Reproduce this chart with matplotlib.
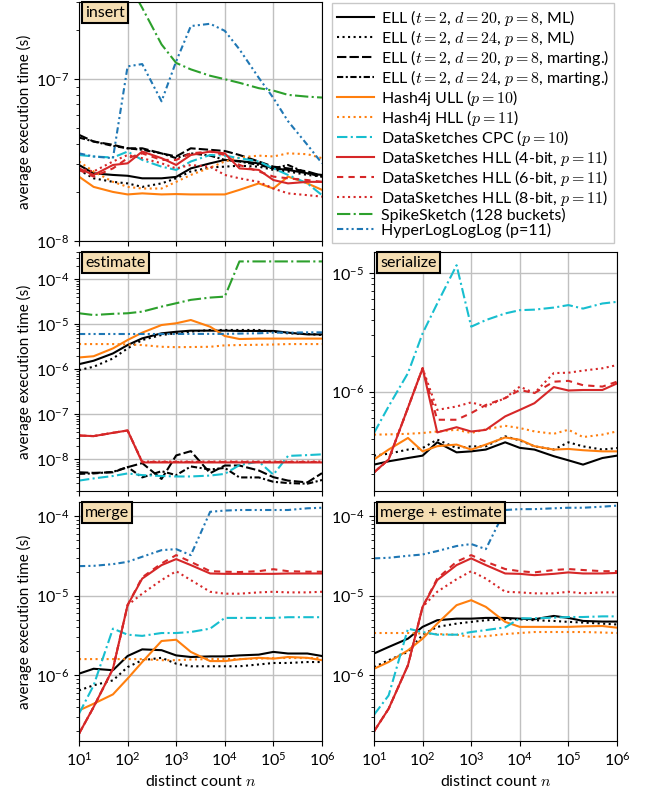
import numpy as np
import matplotlib
matplotlib.use('Agg')
import matplotlib.pyplot as plt

plt.rcParams['font.family'] = ['Lato', 'DejaVu Sans']
plt.rcParams['mathtext.fontset'] = 'cm'
plt.rcParams['font.size'] = 10.5

# distinct counts
n = [10, 20, 50, 100, 200, 500, 1e3, 2e3, 5e3, 1e4, 2e4, 5e4, 1e5, 2e5, 5e5, 1e6]

# --- insert ---
ins_ell_ml20 = [2.95e-8, 2.62e-8, 2.56e-8, 2.53e-8, 2.44e-8, 2.44e-8, 2.49e-8, 2.81e-8, 3.02e-8, 3.17e-8, 3.12e-8, 3.02e-8, 2.81e-8, 2.75e-8, 2.62e-8, 2.56e-8]
ins_ell_ml24 = [2.75e-8, 2.44e-8, 2.32e-8, 2.27e-8, 2.16e-8, 2.27e-8, 2.44e-8, 2.69e-8, 2.85e-8, 2.88e-8, 2.92e-8, 2.88e-8, 2.75e-8, 2.69e-8, 2.56e-8, 2.5e-8]
ins_ell_mg20 = [4.53e-8, 4.12e-8, 3.93e-8, 3.74e-8, 3.74e-8, 3.48e-8, 3.33e-8, 3.74e-8, 3.66e-8, 3.6e-8, 3.4e-8, 3.1e-8, 2.88e-8, 2.81e-8, 2.69e-8, 2.53e-8]
ins_ell_mg24 = [4.36e-8, 4.12e-8, 3.87e-8, 3.74e-8, 3.66e-8, 3.48e-8, 3.25e-8, 3.48e-8, 3.37e-8, 3.17e-8, 3.1e-8, 2.95e-8, 2.81e-8, 2.95e-8, 2.62e-8, 2.5e-8]
ins_ull = [2.5e-8, 2.16e-8, 2.01e-8, 1.94e-8, 1.97e-8, 1.94e-8, 1.95e-8, 1.94e-8, 1.94e-8, 1.94e-8, 2.07e-8, 2.27e-8, 2.11e-8, 2.5e-8, 2.27e-8, 2.07e-8]
ins_h4hll = [3.1e-8, 2.69e-8, 2.32e-8, 2.16e-8, 2.11e-8, 2.11e-8, 2.32e-8, 2.56e-8, 2.84e-8, 3.1e-8, 3.28e-8, 3.37e-8, 3.33e-8, 3.48e-8, 3.44e-8, 3.25e-8]
ins_cpc = [3.4e-8, 3.33e-8, 3.28e-8, 3.57e-8, 3.17e-8, 2.88e-8, 2.75e-8, 3.1e-8, 3.4e-8, 3.37e-8, 3.25e-8, 3.1e-8, 2.81e-8, 2.56e-8, 2.27e-8, 1.92e-8]
ins_ds4 = [2.81e-8, 2.56e-8, 2.95e-8, 3.02e-8, 3.57e-8, 3.25e-8, 2.95e-8, 3.4e-8, 3.57e-8, 3.48e-8, 2.81e-8, 2.75e-8, 2.38e-8, 2.27e-8, 2.32e-8, 2.32e-8]
ins_ds6 = [2.75e-8, 2.5e-8, 2.81e-8, 3.25e-8, 3.48e-8, 3.17e-8, 3.17e-8, 3.48e-8, 3.57e-8, 3.4e-8, 2.95e-8, 2.69e-8, 2.5e-8, 2.44e-8, 2.38e-8, 2.32e-8]
ins_ds8 = [2.81e-8, 2.69e-8, 3.1e-8, 3.4e-8, 3.25e-8, 3.02e-8, 2.81e-8, 2.95e-8, 2.88e-8, 2.56e-8, 2.44e-8, 2.32e-8, 2.11e-8, 1.97e-8, 1.92e-8, 1.88e-8]
ins_spike = [8e-7, 6.5e-7, 5e-7, 4e-7, 2.76e-7, 1.64e-7, 1.26e-7, 1.15e-7, 1.05e-7, 1.0e-7, 9.5e-8, 8.8e-8, 8.5e-8, 8.0e-8, 7.8e-8, 7.7e-8]
ins_hlll = [3.48e-8, 3.33e-8, 3.25e-8, 1.2e-7, 1.24e-7, 7.3e-8, 1.29e-7, 2.13e-7, 2.2e-7, 1.99e-7, 1.53e-7, 1.02e-7, 7.65e-8, 5.5e-8, 3.93e-8, 3.02e-8]

# --- estimate ---
est_ell_ml20 = [1.3e-6, 1.55e-6, 2.25e-6, 3.45e-6, 4.86e-6, 6.28e-6, 6.8e-6, 7.2e-6, 7.2e-6, 7.2e-6, 7.1e-6, 7.1e-6, 7.1e-6, 6.5e-6, 5.95e-6, 5.95e-6]
est_ell_ml24 = [9.6e-7, 1.14e-6, 1.74e-6, 2.91e-6, 4.46e-6, 5.77e-6, 6.28e-6, 6.84e-6, 7.45e-6, 7.45e-6, 7.45e-6, 7.45e-6, 6.84e-6, 6.28e-6, 6.07e-6, 5.77e-6]
est_ell_mg20 = [5.2e-9, 5.05e-9, 5.2e-9, 6.75e-9, 8.3e-9, 3.7e-9, 1.23e-8, 1.53e-8, 4.97e-9, 7.35e-9, 7.35e-9, 5.7e-9, 4.05e-9, 3.4e-9, 3.1e-9, 4.97e-9]
est_ell_mg24 = [4.8e-9, 4.9e-9, 5.3e-9, 6.8e-9, 4.0e-9, 5.5e-9, 4.5e-9, 7.0e-9, 6.0e-9, 6.5e-9, 4.0e-9, 4.0e-9, 3.2e-9, 3.0e-9, 2.9e-9, 3.5e-9]
est_ull = [1.83e-6, 1.95e-6, 2.91e-6, 4.46e-6, 6.5e-6, 9.6e-6, 1.05e-5, 1.24e-5, 8.8e-6, 5.47e-6, 4.7e-6, 4.8e-6, 4.8e-6, 4.8e-6, 4.8e-6, 4.8e-6]
est_h4hll = [3.63e-6, 3.63e-6, 3.63e-6, 3.55e-6, 3.45e-6, 3.16e-6, 3.1e-6, 3.12e-6, 3.16e-6, 3.4e-6, 3.45e-6, 3.5e-6, 3.55e-6, 3.63e-6, 3.63e-6, 3.63e-6]
est_cpc = [3.4e-9, 3.8e-9, 4.3e-9, 4.9e-9, 4.5e-9, 4.3e-9, 4.2e-9, 4.2e-9, 4.4e-9, 4.8e-9, 7.5e-9, 9.0e-9, 4.6e-9, 1.2e-8, 1.25e-8, 1.3e-8]
est_ds4 = [3.4e-8, 3.3e-8, 3.9e-8, 4.4e-8, 8.6e-9, 8.6e-9, 8.6e-9, 8.6e-9, 8.6e-9, 8.6e-9, 8.6e-9, 8.6e-9, 8.6e-9, 8.6e-9, 8.6e-9, 8.6e-9]
est_ds6 = [3.4e-8, 3.3e-8, 3.9e-8, 4.4e-8, 8.8e-9, 8.8e-9, 8.8e-9, 8.8e-9, 8.8e-9, 8.8e-9, 8.8e-9, 8.8e-9, 8.8e-9, 8.8e-9, 8.8e-9, 8.8e-9]
est_ds8 = [3.4e-8, 3.3e-8, 3.9e-8, 4.4e-8, 9.0e-9, 9.0e-9, 9.0e-9, 9.0e-9, 9.0e-9, 9.0e-9, 9.0e-9, 9.0e-9, 9.0e-9, 9.0e-9, 9.0e-9, 9.0e-9]
est_spike = [1.75e-5, 1.6e-5, 1.7e-5, 1.75e-5, 1.9e-5, 2.46e-5, 2.92e-5, 3.47e-5, 3.9e-5, 4.1e-5, 2.47e-4, 2.47e-4, 2.47e-4, 2.47e-4, 2.47e-4, 2.47e-4]
est_hlll = [6.07e-6, 6.07e-6, 6.07e-6, 6.07e-6, 6.07e-6, 6.07e-6, 6.07e-6, 6.1e-6, 6.1e-6, 6.1e-6, 6.2e-6, 6.3e-6, 6.5e-6, 6.5e-6, 6.6e-6, 6.6e-6]

# --- serialize ---
ser_ell_ml20 = [2.42e-7, 2.58e-7, 2.75e-7, 2.88e-7, 3.73e-7, 3.07e-7, 3.13e-7, 3.24e-7, 3.73e-7, 3.35e-7, 3.24e-7, 2.85e-7, 2.63e-7, 2.42e-7, 2.75e-7, 2.88e-7]
ser_ell_ml24 = [2.88e-7, 2.99e-7, 3.24e-7, 3.34e-7, 3.93e-7, 3.34e-7, 3.45e-7, 3.45e-7, 4.19e-7, 3.87e-7, 3.45e-7, 3.24e-7, 3.73e-7, 3.45e-7, 3.24e-7, 3.34e-7]
ser_ull = [2.67e-7, 3.24e-7, 4.06e-7, 3.13e-7, 3.46e-7, 3.57e-7, 3.24e-7, 3.57e-7, 4.1e-7, 3.92e-7, 3.46e-7, 3.24e-7, 3.28e-7, 3.2e-7, 3.13e-7, 3.13e-7]
ser_h4hll = [4.33e-7, 4.35e-7, 4.4e-7, 4.47e-7, 4.6e-7, 4.76e-7, 4.47e-7, 4.8e-7, 5.14e-7, 4.92e-7, 4.61e-7, 4.4e-7, 4.76e-7, 4.13e-7, 4.33e-7, 4.61e-7]
ser_cpc = [4.47e-7, 7.5e-7, 1.43e-6, 3.09e-6, 5.52e-6, 1.16e-5, 3.52e-6, 4.0e-6, 4.55e-6, 4.85e-6, 4.9e-6, 5.1e-6, 5.35e-6, 5.0e-6, 5.52e-6, 5.7e-6]
ser_ds4 = [2.08e-7, 2.67e-7, 7.3e-7, 1.57e-6, 4.52e-7, 5.0e-7, 4.6e-7, 4.75e-7, 6.17e-7, 7.0e-7, 7.97e-7, 1.09e-6, 1.02e-6, 1.03e-6, 1.03e-6, 1.17e-6]
ser_ds6 = [2.08e-7, 2.67e-7, 7.3e-7, 1.57e-6, 5.78e-7, 5.78e-7, 6.58e-7, 7.7e-7, 8.8e-7, 1.03e-6, 9.7e-7, 1.21e-6, 1.23e-6, 1.13e-6, 1.1e-6, 1.21e-6]
ser_ds8 = [2.08e-7, 2.67e-7, 7.3e-7, 1.57e-6, 7.0e-7, 7.48e-7, 8.1e-7, 7.48e-7, 8.8e-7, 1.1e-6, 9.7e-7, 1.43e-6, 1.44e-6, 1.5e-6, 1.57e-6, 1.67e-6]

# --- merge ---
mrg_ell_ml20 = [1.05e-6, 1.21e-6, 1.16e-6, 1.75e-6, 2.12e-6, 2.07e-6, 1.78e-6, 1.7e-6, 1.73e-6, 1.73e-6, 1.78e-6, 1.82e-6, 1.97e-6, 1.88e-6, 1.88e-6, 1.75e-6]
mrg_ell_ml24 = [6.47e-7, 7.5e-7, 8.65e-7, 1.27e-6, 1.55e-6, 1.66e-6, 1.4e-6, 1.3e-6, 1.3e-6, 1.3e-6, 1.3e-6, 1.37e-6, 1.43e-6, 1.43e-6, 1.47e-6, 1.47e-6]
mrg_ull = [3.63e-7, 4.4e-7, 5.77e-7, 9.1e-7, 1.47e-6, 2.7e-6, 2.8e-6, 1.97e-6, 1.51e-6, 1.51e-6, 1.59e-6, 1.66e-6, 1.62e-6, 1.7e-6, 1.66e-6, 1.55e-6]
mrg_h4hll = [1.6e-6, 1.6e-6, 1.6e-6, 1.6e-6, 1.6e-6, 1.55e-6, 1.55e-6, 1.58e-6, 1.6e-6, 1.6e-6, 1.6e-6, 1.62e-6, 1.65e-6, 1.65e-6, 1.65e-6, 1.65e-6]
mrg_cpc = [3.3e-7, 7.48e-7, 3.86e-6, 3.24e-6, 3.13e-6, 3.4e-6, 3.4e-6, 3.5e-6, 3.86e-6, 5.26e-6, 5.26e-6, 5.26e-6, 5.26e-6, 5.37e-6, 5.37e-6, 5.37e-6]
mrg_ds4 = [1.85e-7, 4.0e-7, 1.21e-6, 7.6e-6, 1.64e-5, 2.42e-5, 2.88e-5, 2.42e-5, 1.9e-5, 1.88e-5, 1.88e-5, 1.88e-5, 1.88e-5, 1.9e-5, 1.9e-5, 1.9e-5]
mrg_ds6 = [1.85e-7, 4.0e-7, 1.21e-6, 7.6e-6, 1.7e-5, 2.54e-5, 3.23e-5, 2.66e-5, 2.03e-5, 2.0e-5, 1.98e-5, 2.03e-5, 2.15e-5, 2.03e-5, 2.0e-5, 2.0e-5]
mrg_ds8 = [1.85e-7, 4.0e-7, 1.21e-6, 7.6e-6, 1.06e-5, 1.57e-5, 2.03e-5, 1.57e-5, 1.12e-5, 1.06e-5, 1.06e-5, 1.1e-5, 1.12e-5, 1.1e-5, 1.1e-5, 1.12e-5]
mrg_hlll = [2.35e-5, 2.37e-5, 2.49e-5, 2.66e-5, 3.08e-5, 3.73e-5, 3.84e-5, 3.23e-5, 1.13e-4, 1.17e-4, 1.19e-4, 1.19e-4, 1.19e-4, 1.19e-4, 1.25e-4, 1.27e-4]

# --- merge + estimate ---
me_ell_ml20 = [1.88e-6, 2.27e-6, 2.89e-6, 4.06e-6, 4.92e-6, 5.15e-6, 5.15e-6, 5.26e-6, 5.26e-6, 5.15e-6, 5.06e-6, 5.57e-6, 5.26e-6, 4.82e-6, 4.73e-6, 4.73e-6]
me_ell_ml24 = [1.27e-6, 1.55e-6, 1.97e-6, 3.24e-6, 4.06e-6, 4.46e-6, 4.69e-6, 4.92e-6, 5.06e-6, 5.06e-6, 4.92e-6, 4.82e-6, 4.69e-6, 4.6e-6, 4.46e-6, 4.35e-6]
me_ull = [1.21e-6, 1.47e-6, 2.06e-6, 2.89e-6, 4.46e-6, 7.6e-6, 8.78e-6, 7.24e-6, 4.69e-6, 4.06e-6, 4.06e-6, 4.06e-6, 4.06e-6, 4.12e-6, 4.16e-6, 3.97e-6]
me_h4hll = [3.4e-6, 3.4e-6, 3.4e-6, 3.35e-6, 3.3e-6, 3.24e-6, 3.03e-6, 3.1e-6, 3.3e-6, 3.4e-6, 3.5e-6, 3.5e-6, 3.5e-6, 3.5e-6, 3.45e-6, 3.4e-6]
me_cpc = [3.2e-7, 5.6e-7, 3.86e-6, 3.5e-6, 3.24e-6, 3.24e-6, 3.5e-6, 3.7e-6, 4.0e-6, 5.2e-6, 5.2e-6, 5.3e-6, 5.4e-6, 5.4e-6, 5.5e-6, 5.5e-6]
me_ds4 = [1.98e-7, 3.81e-7, 1.34e-6, 7.24e-6, 1.57e-5, 2.42e-5, 2.94e-5, 2.42e-5, 1.9e-5, 1.88e-5, 1.81e-5, 1.88e-5, 1.96e-5, 1.9e-5, 1.9e-5, 1.93e-5]
me_ds6 = [1.98e-7, 3.81e-7, 1.34e-6, 7.24e-6, 1.64e-5, 2.67e-5, 3.23e-5, 2.67e-5, 2.16e-5, 2.03e-5, 1.96e-5, 2.1e-5, 2.16e-5, 2.1e-5, 2.03e-5, 2.03e-5]
me_ds8 = [1.98e-7, 3.81e-7, 1.34e-6, 7.24e-6, 1.12e-5, 1.61e-5, 2.03e-5, 1.64e-5, 1.12e-5, 1.1e-5, 1.07e-5, 1.07e-5, 1.12e-5, 1.07e-5, 1.1e-5, 1.1e-5]
me_hlll = [2.94e-5, 2.99e-5, 3.17e-5, 3.29e-5, 3.63e-5, 4.2e-5, 4.45e-5, 3.84e-5, 1.19e-4, 1.22e-4, 1.22e-4, 1.25e-4, 1.27e-4, 1.27e-4, 1.31e-4, 1.35e-4]

labels = [
    r'ELL ($t = 2$, $d = 20$, $p = 8$, ML)',
    r'ELL ($t = 2$, $d = 24$, $p = 8$, ML)',
    r'ELL ($t = 2$, $d = 20$, $p = 8$, marting.)',
    r'ELL ($t = 2$, $d = 24$, $p = 8$, marting.)',
    r'Hash4j ULL ($p = 10$)',
    r'Hash4j HLL ($p = 11$)',
    r'DataSketches CPC ($p = 10$)',
    r'DataSketches HLL (4-bit, $p = 11$)',
    r'DataSketches HLL (6-bit, $p = 11$)',
    r'DataSketches HLL (8-bit, $p = 11$)',
    'SpikeSketch (128 buckets)',
    'HyperLogLogLog (p=11)',
]
colors = ['k', 'k', 'k', 'k', '#ff7f0e', '#ff7f0e', '#17becf',
          '#d62728', '#d62728', '#d62728', '#2ca02c', '#1f77b4']
styles = ['-', ':', (0, (4.5, 1.5)), (0, (3, 1.2, 1, 1.2)), '-', ':',
          (0, (5, 1.6, 1, 1.6)), '-', (0, (3, 2.5)), ':', '-.',
          (0, (3, 1.5, 1, 1.5, 1, 1.5))]

# panel: name, series (index -> values), ylim
panels = [
    ('insert', {0: ins_ell_ml20, 1: ins_ell_ml24, 2: ins_ell_mg20, 3: ins_ell_mg24,
                4: ins_ull, 5: ins_h4hll, 6: ins_cpc, 7: ins_ds4, 8: ins_ds6,
                9: ins_ds8, 10: ins_spike, 11: ins_hlll}, (1e-8, 3e-7)),
    ('estimate', {0: est_ell_ml20, 1: est_ell_ml24, 2: est_ell_mg20, 3: est_ell_mg24,
                  4: est_ull, 5: est_h4hll, 6: est_cpc, 7: est_ds4, 8: est_ds6,
                  9: est_ds8, 10: est_spike, 11: est_hlll}, (2e-9, 4e-4)),
    ('serialize', {0: ser_ell_ml20, 1: ser_ell_ml24, 4: ser_ull, 5: ser_h4hll,
                   6: ser_cpc, 7: ser_ds4, 8: ser_ds6, 9: ser_ds8}, (1.45e-7, 1.5e-5)),
    ('merge', {0: mrg_ell_ml20, 1: mrg_ell_ml24, 4: mrg_ull, 5: mrg_h4hll,
               6: mrg_cpc, 7: mrg_ds4, 8: mrg_ds6, 9: mrg_ds8, 11: mrg_hlll}, (1.5e-7, 1.5e-4)),
    ('merge + estimate', {0: me_ell_ml20, 1: me_ell_ml24, 4: me_ull, 5: me_h4hll,
                          6: me_cpc, 7: me_ds4, 8: me_ds6, 9: me_ds8, 11: me_hlll}, (1.5e-7, 1.5e-4)),
]

fig, axs = plt.subplots(3, 2, figsize=(6.49, 7.96), dpi=100, sharex=True)
fig.subplots_adjust(left=0.1217, right=0.9507, top=0.9975, bottom=0.0691,
                    wspace=0.214, hspace=0.046)
axs[0, 1].axis('off')
slots = [axs[0, 0], axs[1, 0], axs[1, 1], axs[2, 0], axs[2, 1]]

handles = []
for ax, (name, series, ylim) in zip(slots, panels):
    for i in sorted(series):
        line, = ax.plot(n, series[i], color=colors[i], linestyle=styles[i],
                        lw=1.5, label=labels[i])
        if name == 'insert':
            handles.append(line)
    ax.set_xscale('log')
    ax.set_yscale('log')
    ax.set_xlim(10, 1e6)
    ax.set_ylim(*ylim)
    ax.set_xticks([1e1, 1e2, 1e3, 1e4, 1e5, 1e6])
    ax.xaxis.set_minor_locator(matplotlib.ticker.NullLocator())
    ax.grid(True, which='major', color='#c0c0c0', lw=1)
    ax.tick_params(labelsize=11.5)
    ax.text(0.025, 0.985, name, transform=ax.transAxes, va='top', ha='left',
            fontsize=11.5,
            bbox=dict(boxstyle='square,pad=0.2', fc='wheat', ec='k', lw=1.5))

for ax in [axs[0, 0], axs[1, 0], axs[2, 0]]:
    ax.set_ylabel('average execution time (s)', fontsize=11, labelpad=3)
for ax in [axs[2, 0], axs[2, 1]]:
    ax.set_xlabel(r'distinct count $n$', fontsize=11.5)

fig.legend(handles=handles, loc='upper left', bbox_to_anchor=(332 / 649, 1 - 3 / 796),
           fontsize=11.5, handlelength=2.3, handletextpad=0.45, borderpad=0.3,
           labelspacing=0.0, fancybox=False, edgecolor='#c8c8c8', framealpha=1,
           borderaxespad=0)

fig.savefig('out.png', dpi=100)
